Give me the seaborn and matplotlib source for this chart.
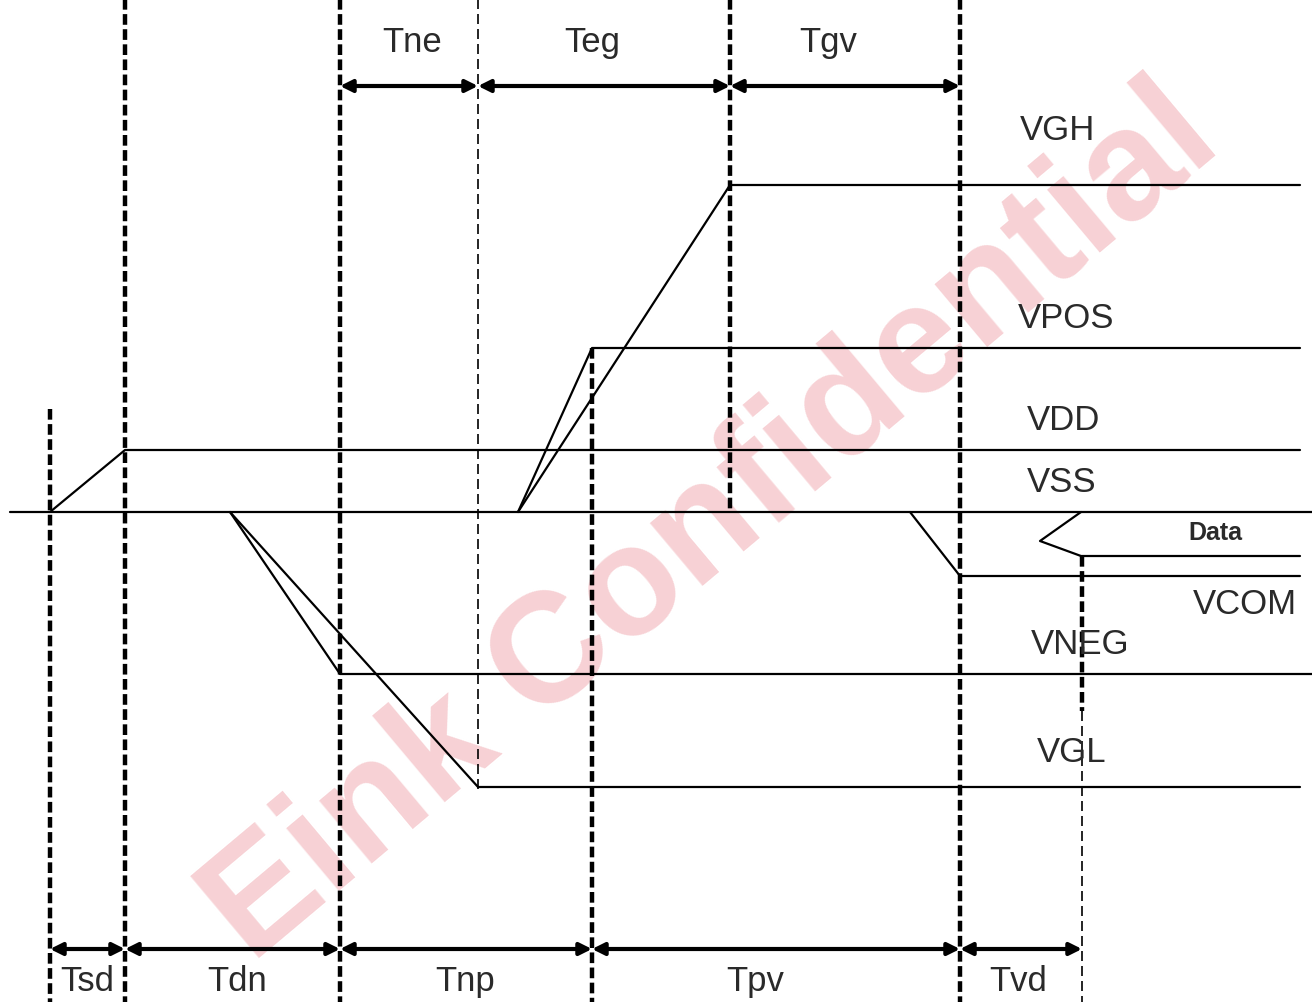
import pandas as pd
import seaborn as sns
import matplotlib.pyplot as plt

# timing marker positions (x) and their vertical extent (y top, y bottom)
marker_x = [50, 125, 340, 478, 592, 730, 960, 1082, 1082]
marker_y0 = [410, 0, 0, 0, 349, 0, 0, 557, 712]
marker_y1 = [1003, 1003, 1003, 790, 1003, 510, 1003, 712, 1003]
marker_thick = [True, True, True, False, True, True, True, True, False]

# power rail waveforms
signal_names = ['VSS', 'VDD', 'VGH', 'VPOS', 'VNEG', 'VGL', 'VCOM', 'Data']
signal_x = [
    [10, 1312],
    [50, 125, 1300],
    [518, 730, 1300],
    [518, 592, 1300],
    [230, 340, 1312],
    [230, 478, 1300],
    [910, 960, 1300],
    [1081, 1040, 1081, 1300],
]
signal_y = [
    [513, 513],
    [513, 451, 451],
    [513, 186, 186],
    [513, 349, 349],
    [513, 675, 675],
    [513, 788, 788],
    [513, 577, 577],
    [513, 542, 557, 557],
]

# signal labels
label_text = ['VGH', 'VPOS', 'VDD', 'VSS', 'VNEG', 'VGL', 'VCOM']
label_x = [1058, 1066, 1064, 1062, 1080, 1072, 1245]
label_y = [130, 318, 420, 482, 645, 752, 605]

# timing spans
top_names = ['Tne', 'Teg', 'Tgv']
top_start = [340, 478, 730]
top_end = [478, 730, 960]
top_label_x = [412, 592, 828]

bottom_names = ['Tsd', 'Tdn', 'Tnp', 'Tpv', 'Tvd']
bottom_start = [50, 125, 340, 592, 960]
bottom_end = [125, 340, 592, 960, 1082]
bottom_label_x = [87, 237, 465, 755, 1018]

rows = []
for name, xs, ys in zip(signal_names, signal_x, signal_y):
    for i, (x, y) in enumerate(zip(xs, ys)):
        rows.append({'signal': name, 'order': i, 'x': x, 'y': y})
df = pd.DataFrame(rows)

sns.set_theme(style='white')
plt.rcParams['font.family'] = ['Liberation Sans', 'DejaVu Sans']

fig = plt.figure(figsize=(13.12, 10.03), dpi=100)
ax = fig.add_axes([0, 0, 1, 1])

# watermark
ax.text(712, 525, 'Eink Confidential', fontsize=112, fontweight='bold',
        color='#ee9aa2', alpha=0.45, rotation=40, ha='center', va='center', zorder=0)

sns.lineplot(data=df, x='x', y='y', hue='signal', units='signal', estimator=None,
             sort=False, palette=['black'] * len(signal_names), legend=False,
             linewidth=1.6, ax=ax, zorder=3)

for x, y0, y1, thick in zip(marker_x, marker_y0, marker_y1, marker_thick):
    if thick:
        ax.plot([x, x], [y0, y1], color='black', lw=3.2, dashes=(2.4, 1.0), zorder=2)
    else:
        ax.plot([x, x], [y0, y1], color='black', lw=1.2, dashes=(6, 3), zorder=2)

arrow = dict(arrowstyle='<|-|>', lw=3, color='black', mutation_scale=18,
             shrinkA=0, shrinkB=0)
for name, x0, x1, lx in zip(top_names, top_start, top_end, top_label_x):
    ax.annotate('', xy=(x1, 87), xytext=(x0, 87), arrowprops=arrow, zorder=4)
    ax.text(lx, 42, name, fontsize=25, color='#2a2a2a', ha='center', va='center')

for name, x0, x1, lx in zip(bottom_names, bottom_start, bottom_end, bottom_label_x):
    ax.annotate('', xy=(x1, 950), xytext=(x0, 950), arrowprops=arrow, zorder=4)
    ax.text(lx, 982, name, fontsize=25, color='#2a2a2a', ha='center', va='center')

for t, x, y in zip(label_text, label_x, label_y):
    ax.text(x, y, t, fontsize=25, color='#2a2a2a', ha='center', va='center', zorder=5)
ax.text(1215, 533, 'Data', fontsize=18, fontweight='bold', color='#2a2a2a',
        ha='center', va='center', zorder=5)

ax.set_xlim(0, 1312)
ax.set_ylim(1003, 0)
ax.axis('off')

fig.savefig('out.png', dpi=100)
